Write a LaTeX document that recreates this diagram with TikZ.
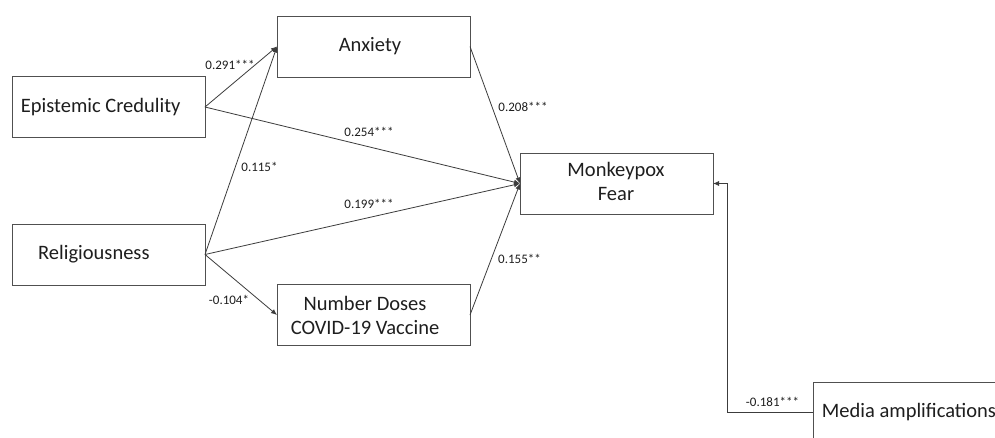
\documentclass[tikz,border=0pt]{standalone}
\usepackage{fontspec}
\setmainfont{Carlito}
\usetikzlibrary{arrows.meta}
\definecolor{linegray}{HTML}{3C3C3C}
\definecolor{boxgray}{HTML}{505050}
\definecolor{txtgray}{HTML}{1E1E1E}
\tikzset{
  box/.style={draw=boxgray, line width=0.9pt, minimum width=193pt, minimum height=61pt, inner sep=0pt, outer sep=0pt, fill=white},
  boxtext/.style={font=\fontsize{20.5}{25}\selectfont, text=txtgray, inner sep=0pt, align=center},
  lbl/.style={font=\fontsize{13}{15}\selectfont, text=txtgray, inner sep=0pt},
  arr/.style={draw=linegray, line width=0.8pt, -{Latex[length=6pt,width=5pt]}}
}
\begin{document}
\begin{tikzpicture}[x=1pt,y=-1pt]
\clip (0,0) rectangle (995,437);
\fill[white] (0,0) rectangle (995,437);
% boxes
\node[box] (anx) at (373.5,46.5) {};
\node[box] (ec) at (108.5,107) {};
\node[box] (rel) at (108.5,254.5) {};
\node[box] (nd) at (373.5,315) {};
\node[box] (mf) at (616.5,183.5) {};
\node[box] (med) at (909.5,412.5) {};
% box texts
\node[boxtext] (anxt) at (370,46.5) {Anxiety};
\node[boxtext, anchor=west] (ect) at (20.7,107) {Epistemic Credulity};
\node[boxtext, anchor=west] (relt) at (38,254) {Religiousness};
\node[boxtext] (ndt) at (365,315.5) {Number Doses\\[-1pt]COVID-19 Vaccine};
\node[boxtext] (mft) at (616,181) {Monkeypox\\[-1pt]Fear};
\node[boxtext, anchor=west] (medt) at (821.7,412) {Media amplifications};
% connectors
\draw[arr] (ec.east) -- (anx.west);
\draw[arr] (rel.east) -- (anx.west);
\draw[arr] (ec.east) -- (mf.west);
\draw[arr] (rel.east) -- (mf.west);
\draw[arr] (anx.east) -- (mf.west);
\draw[arr] (rel.east) -- (nd.west);
\draw[arr] (nd.east) -- (mf.west);
\coordinate (elb) at (727,412.5);
\draw[arr] (med.west) -- (elb) |- (mf.east);
% labels
\node[lbl] (l1) at (230,65) {0.291***};
\node[lbl] (l2) at (259.5,166.5) {0.115*};
\node[lbl] (l3) at (369,132) {0.254***};
\node[lbl] (l4) at (369,204) {0.199***};
\node[lbl] (l5) at (523,106.5) {0.208***};
\node[lbl] (l6) at (229,299.5) {-0.104*};
\node[lbl] (l7) at (519.5,258.5) {0.155**};
\node[lbl] (l8) at (772.5,401.5) {-0.181***};
\end{tikzpicture}
\end{document}
